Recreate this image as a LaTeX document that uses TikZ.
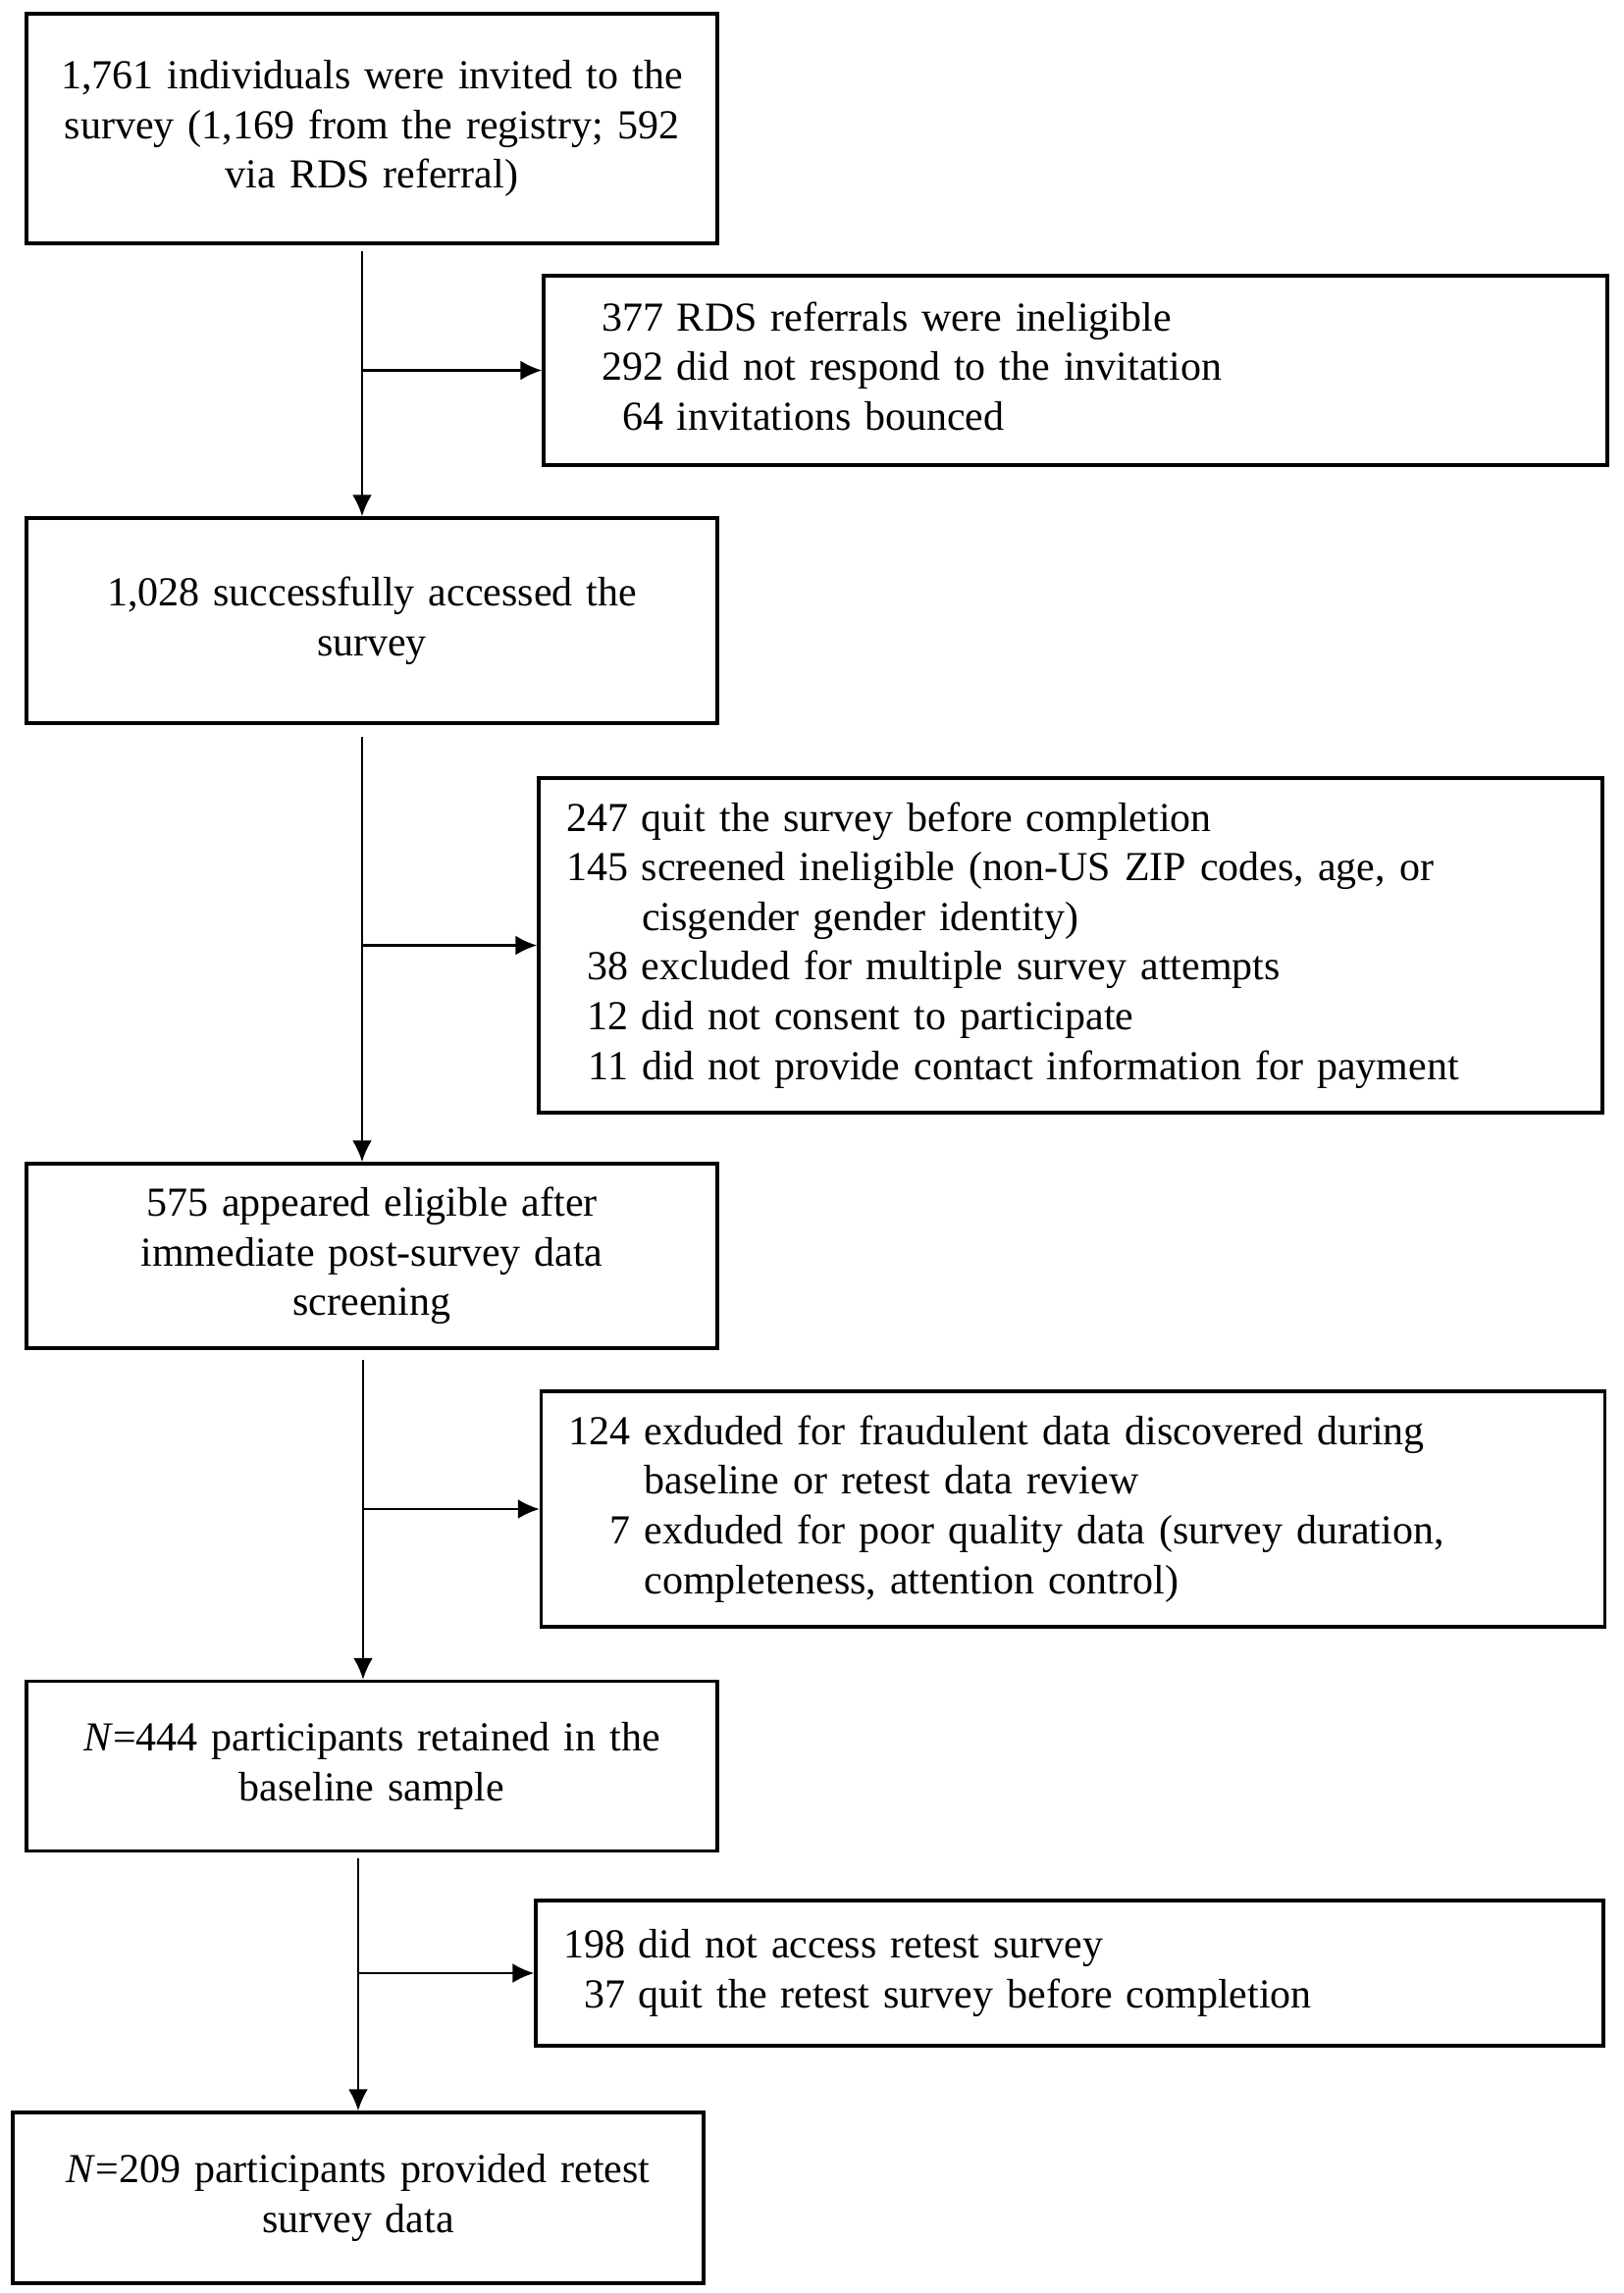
\documentclass[tikz,border=0pt]{standalone}
\usepackage{fontspec}
\setmainfont{Liberation Serif}
\usetikzlibrary{arrows.meta}
\begin{document}
\begin{tikzpicture}[x=0.5pt,y=-0.5pt,
  font=\fontsize{21}{25.3}\selectfont,
  mainbox/.style={draw, line width=1.7pt, minimum width=352pt, text width=336pt, align=center, inner sep=0pt},
  sidebox/.style={draw, line width=1.7pt, minimum width=542pt, text width=514pt, align=left, inner sep=0pt},
  flow/.style={-{Latex[length=11pt,width=10pt]}, line width=1.3pt}]

\useasboundingbox (0,0) rectangle (1654,2337);

%%%%%%%%%%%%%-------------main column
\node[mainbox, minimum height=117pt] (invited) at (379,131) {1,761 individuals were invited to the\\ survey (1,169 from the registry; 592\\ via RDS referral)};
\node[mainbox, minimum height=104.5pt] (accessed) at (379,632.5) {1,028 successfully accessed the\\ survey};
\node[mainbox, minimum height=94pt] (eligible) at (379,1280) {575 appeared eligible after\\ immediate post-survey data\\ screening};
\node[mainbox, minimum height=86.5pt] (baseline) at (379,1800) {\textit{N}=444 participants retained in the\\ baseline sample};
\node[mainbox, minimum height=87pt] (retest) at (365,2240) {\textit{N}=209 participants provided retest\\ survey data};

%%%%%%%%%%%%%-------------exclusions
\node[sidebox, text width=483pt, minimum height=96.5pt] (ineligible) at (1096,377.5) {\begin{tabular}{@{}r@{\ }l@{}}
377 & RDS referrals were ineligible\\
292 & did not respond to the invitation\\
64 & invitations bounced
\end{tabular}};
\node[sidebox, minimum height=170.5pt] (quit) at (1091,963.5) {\begin{tabular}{@{}r@{\ }l@{}}
247 & quit the survey before completion\\
145 & screened ineligible (non-US ZIP codes, age, or\\
 & cisgender gender identity)\\
38 & excluded for multiple survey attempts\\
12 & did not consent to participate\\
11 & did not provide contact information for payment
\end{tabular}};
\node[sidebox, minimum height=120pt] (fraud) at (1093.5,1538) {\begin{tabular}{@{}r@{\ }l@{}}
124 & exduded for fraudulent data discovered during\\
 & baseline or retest data review\\
7 & exduded for poor quality data (survey duration,\\
 & completeness, attention control)
\end{tabular}};
\node[sidebox, minimum width=544pt, text width=516pt, minimum height=74pt] (noretest) at (1090,2011) {\begin{tabular}{@{}r@{\ }l@{}}
198 & did not access retest survey\\
37 & quit the retest survey before completion
\end{tabular}};

%%%%%%%%%%%%%-------------arrows
\coordinate (trunk1) at (369,381);
\coordinate (trunk2) at (369,966);
\coordinate (trunk3) at (370,1539);
\coordinate (trunk4) at (365,2013);

\draw[flow, shorten <=3pt] (invited.south -| trunk1) -- (accessed.north -| trunk1);
\draw[flow] (ineligible.west -| trunk1) -- (ineligible.west);
\draw[flow, shorten <=6pt] (accessed.south -| trunk2) -- (eligible.north -| trunk2);
\draw[flow] (quit.west -| trunk2) -- (quit.west);
\draw[flow, shorten <=5pt] (eligible.south -| trunk3) -- (baseline.north -| trunk3);
\draw[flow] (fraud.west -| trunk3) -- (fraud.west);
\draw[flow, shorten <=3pt] (baseline.south -| trunk4) -- (retest.north -| trunk4);
\draw[flow] (noretest.west -| trunk4) -- (noretest.west);

\end{tikzpicture}
\end{document}
